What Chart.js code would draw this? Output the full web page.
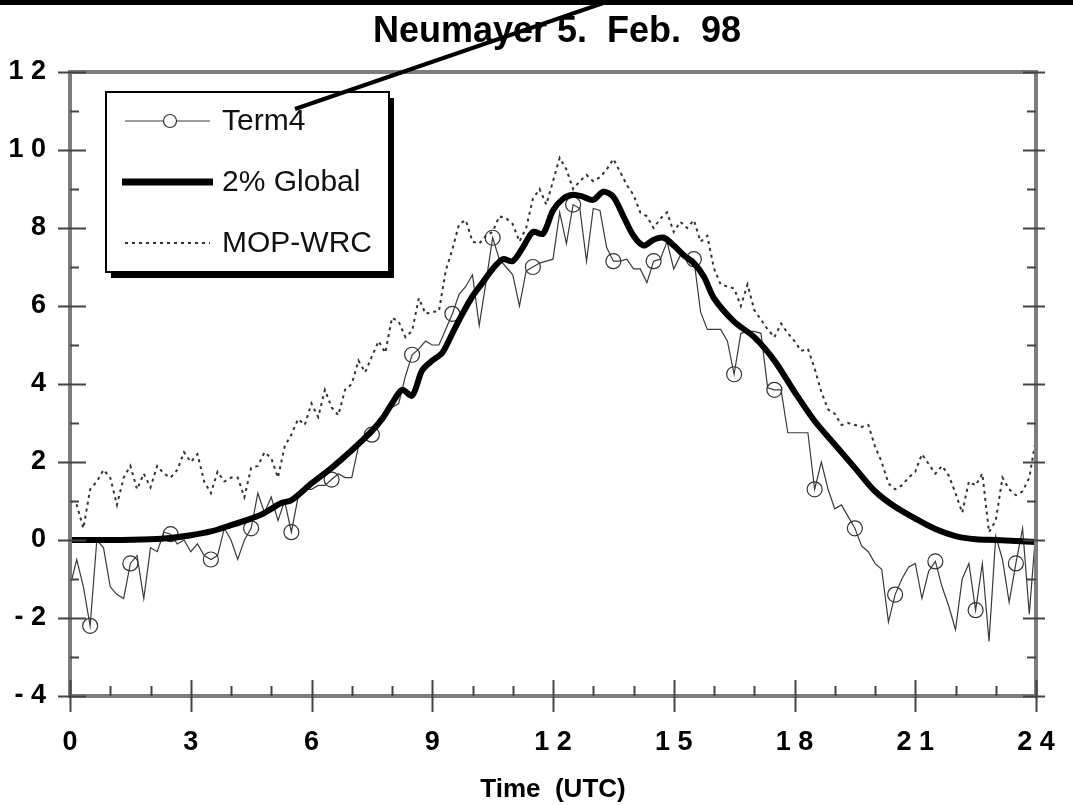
<!DOCTYPE html>
<html>
<head>
<meta charset="utf-8">
<script src="https://cdn.jsdelivr.net/npm/chart.js@4"></script>
<style>
  html, body { margin: 0; padding: 0; background: #fff; }
  #wrap { width: 1073px; height: 805px; position: relative; }
</style>
</head>
<body>
<div id="wrap"><canvas id="chartNeumayer"></canvas></div>
<script>
// 10-minute samples from 0 to 24 UTC
const term4Vals = [
  -1.2, -0.5, -1.2, -2.2, 0.0, -0.2,
  -1.2, -1.4, -1.5, -0.6, -0.4, -1.5,
  -0.2, -0.3, 0.2, 0.15, -0.1, 0.0,
  -0.3, -0.1, -0.4, -0.5, -0.4, 0.3,
  0.0, -0.5, 0.0, 0.3, 1.2, 0.7,
  1.1, 0.5, 1.0, 0.2, 1.1, 1.3,
  1.3, 1.4, 1.4, 1.55, 1.7, 1.6,
  1.6, 2.4, 2.55, 2.7, 2.9, 3.2,
  3.4, 3.5, 4.2, 4.75, 4.9, 5.1,
  5.0, 5.0, 5.4, 5.8, 6.3, 6.5,
  6.8, 5.5, 6.6, 7.75, 7.2, 7.0,
  6.8, 6.0, 6.9, 7.0, 7.1, 7.15,
  7.2, 8.4, 7.6, 8.6, 8.5, 7.15,
  8.5, 8.45, 7.5, 7.15, 7.15, 7.2,
  6.95, 6.95, 6.6, 7.15, 7.2, 7.65,
  6.95, 7.3, 7.25, 7.2, 5.85, 5.4,
  5.4, 5.4, 5.1, 4.25, 5.3, 5.35,
  5.35, 5.3, 3.9, 3.85, 3.85, 2.75,
  2.75, 2.75, 2.75, 1.3, 2.0, 1.3,
  0.8, 0.9, 0.6, 0.3, -0.15, -0.3,
  -0.6, -0.75, -2.1, -1.4, -1.0, -0.7,
  -0.6, -1.5, -0.8, -0.55, -1.2, -1.7,
  -2.3, -1.0, -0.6, -1.8, -0.6, -2.6,
  0.1, -0.5, -1.6, -0.6, 0.3, -1.9,
  0.3
];

const mopVals = [
  1.0, 0.9, 0.3, 1.3, 1.5, 1.8,
  1.6, 0.9, 1.6, 1.9, 1.3, 1.7,
  1.35, 1.9, 1.7, 1.6, 1.8, 2.25,
  2.0, 2.2, 1.5, 1.2, 1.75, 1.5,
  1.6, 1.6, 1.1, 1.85, 1.9, 2.25,
  2.1, 1.6, 2.4, 2.7, 3.1, 2.95,
  3.5, 3.15, 3.85, 3.4, 3.2, 3.85,
  4.0, 4.6, 4.3, 4.7, 5.1, 4.8,
  5.7, 5.6, 5.2, 5.36, 6.2, 5.8,
  5.85, 5.87, 6.9, 7.45, 8.1, 8.2,
  7.65, 7.6, 7.8, 7.9, 8.3, 8.25,
  8.1, 7.65, 8.0, 8.75, 9.0, 8.6,
  9.2, 9.8, 9.5, 9.0, 9.2, 9.36,
  9.2, 9.3, 9.5, 9.77, 9.44, 9.1,
  8.85, 8.4, 8.3, 8.0, 8.24, 8.4,
  7.9, 8.16, 8.0, 8.2, 7.65, 7.8,
  6.96, 6.55, 6.5, 6.45, 6.0, 6.55,
  5.9, 5.65, 5.4, 5.2, 5.55, 5.3,
  5.1, 4.85, 4.9, 4.4, 3.8, 3.35,
  3.24, 2.95, 3.0, 2.95, 2.9, 2.95,
  2.4, 2.0, 1.45, 1.3, 1.4, 1.6,
  1.75, 2.2, 1.95, 1.7, 1.9, 1.65,
  1.2, 0.7, 1.5, 1.4, 1.7, 0.2,
  0.5, 1.6, 1.3, 1.15, 1.25, 1.6,
  2.6
];

const globalTimes = [0, 1, 2, 2.5, 3, 3.5, 4, 4.5, 4.75, 5, 5.25, 5.5, 6, 6.5, 7, 7.5, 7.75, 8, 8.25, 8.5,
  8.75, 9, 9.25, 9.5, 9.75, 10, 10.25, 10.5, 10.75, 11, 11.25, 11.5, 11.75, 12, 12.25, 12.5, 12.75, 13,
  13.25, 13.5, 13.75, 14, 14.25, 14.5, 14.75, 15, 15.25, 15.5, 15.75, 16, 16.5, 17, 17.5, 18, 18.5, 19,
  19.5, 20, 20.5, 21, 21.5, 22, 22.5, 23, 24];
const globalVals = [0, 0, 0.02, 0.05, 0.12, 0.22, 0.38, 0.55, 0.65, 0.8, 0.95, 1.02, 1.45, 1.85, 2.3, 2.8, 3.1, 3.5, 3.85, 3.7,
  4.35, 4.6, 4.8, 5.3, 5.8, 6.25, 6.6, 6.95, 7.2, 7.15, 7.5, 7.9, 7.85, 8.45, 8.75, 8.85, 8.8, 8.72,
  8.93, 8.8, 8.3, 7.8, 7.55, 7.7, 7.75, 7.55, 7.3, 7.1, 6.75, 6.2, 5.6, 5.2, 4.6, 3.8, 3.05, 2.45,
  1.85, 1.25, 0.85, 0.55, 0.28, 0.1, 0.02, 0, -0.05];

const xTickLabels = ["0", "3", "6", "9", "1 2", "1 5", "1 8", "2 1", "2 4"];
const yTickLabels = ["- 4", "- 2", "0", "2", "4", "6", "8", "1 0", "1 2"];
const seriesNames = ["Term4", "2% Global", "MOP-WRC"];

const FONT = '"Liberation Sans", Arial, Helvetica, sans-serif';

const term4Data = term4Vals.map((v, i) => ({ x: i / 6, y: v }));
const mopData = mopVals.map((v, i) => ({ x: i / 6, y: v }));
const globalData = globalVals.map((v, i) => ({ x: globalTimes[i], y: v }));

const decorPlugin = {
  id: "decor",
  afterDraw(chart) {
    const { ctx, chartArea: a, scales: { x, y } } = chart;
    ctx.save();

    // plot frame
    ctx.strokeStyle = "#7d7d7d";
    ctx.lineWidth = 4;
    ctx.strokeRect(a.left, a.top, a.right - a.left, a.bottom - a.top);

    // tick marks
    ctx.strokeStyle = "#444";
    ctx.lineWidth = 2;
    ctx.beginPath();
    for (let v = -4; v <= 12; v++) {
      const py = Math.round(y.getPixelForValue(v)) + 0.5;
      const major = v % 2 === 0;
      ctx.moveTo(a.left - (major ? 12 : 0), py);
      ctx.lineTo(a.left + (major ? 16 : 9), py);
      ctx.moveTo(a.right - (major ? 13 : 9), py);
      ctx.lineTo(a.right + (major ? 9 : 0), py);
    }
    for (let h = 0; h <= 24; h++) {
      const px = Math.round(x.getPixelForValue(h)) + 0.5;
      const major = h % 3 === 0;
      ctx.moveTo(px, a.bottom - (major ? 16 : 10));
      ctx.lineTo(px, a.bottom + (major ? 16 : 0));
    }
    ctx.stroke();

    // legend box with shadow
    const bx = 106, by = 92, bw = 283, bh = 180;
    ctx.fillStyle = "#000";
    ctx.fillRect(bx + 5, by + 6, bw, bh);
    ctx.fillStyle = "#fff";
    ctx.fillRect(bx, by, bw, bh);
    ctx.strokeStyle = "#000";
    ctx.lineWidth = 2;
    ctx.strokeRect(bx, by, bw, bh);

    const rows = [121, 182, 243];
    const ds = chart.data.datasets;
    ctx.font = "30px " + FONT;
    ctx.textBaseline = "middle";
    ctx.textAlign = "left";
    ds.forEach((d, i) => {
      const ry = rows[i];
      ctx.save();
      ctx.strokeStyle = d.borderColor;
      ctx.lineWidth = i === 1 ? 7 : d.borderWidth;
      ctx.setLineDash(d.borderDash || []);
      ctx.beginPath();
      ctx.moveTo(i === 1 ? 122 : 125, ry);
      ctx.lineTo(i === 1 ? 213 : 210, ry);
      ctx.stroke();
      ctx.restore();
      if (i === 0) {
        ctx.fillStyle = "#fff";
        ctx.strokeStyle = "#333";
        ctx.lineWidth = 1.2;
        ctx.beginPath();
        ctx.arc(170, ry, 6.5, 0, Math.PI * 2);
        ctx.fill();
        ctx.stroke();
      }
      ctx.fillStyle = "#111";
      ctx.fillText(d.label, 222, ry + 1);
    });

    // title
    ctx.fillStyle = "#000";
    ctx.font = "bold 36px " + FONT;
    ctx.textAlign = "center";
    ctx.textBaseline = "alphabetic";
    ctx.fillText("Neumayer 5.  Feb.  98", 557, 42);

    // top rule and pointer line
    ctx.fillRect(0, 0, 1073, 5);
    ctx.strokeStyle = "#000";
    ctx.lineWidth = 4;
    ctx.beginPath();
    ctx.moveTo(295, 109);
    ctx.lineTo(612, 0);
    ctx.stroke();

    ctx.restore();
  }
};

document.addEventListener("DOMContentLoaded", () => {
  const ctx = document.getElementById("chartNeumayer");

  new Chart(ctx, {
    type: "line",
    data: {
      datasets: [
        {
          label: seriesNames[0],
          data: term4Data,
          borderColor: "#3a3a3a",
          borderWidth: 1.2,
          tension: 0,
          pointRadius: (c) => (c.dataIndex % 6 === 3 ? 7.5 : 0),
          pointBackgroundColor: "rgba(0,0,0,0)",
          pointBorderColor: "#333",
          pointBorderWidth: 1.2,
          order: 1
        },
        {
          label: seriesNames[1],
          data: globalData,
          borderColor: "#000",
          borderWidth: 6,
          tension: 0.3,
          pointRadius: 0,
          order: 0
        },
        {
          label: seriesNames[2],
          data: mopData,
          borderColor: "#333",
          borderWidth: 2,
          borderDash: [3, 4],
          tension: 0,
          pointRadius: 0,
          order: 2
        }
      ]
    },
    options: {
      responsive: true,
      maintainAspectRatio: false,
      devicePixelRatio: 1,
      animation: false,
      events: [],
      layout: { padding: { top: 72, right: 37, left: 0, bottom: 0 } },
      plugins: {
        legend: { display: false },
        tooltip: { enabled: false },
        title: { display: false }
      },
      scales: {
        x: {
          type: "linear",
          min: 0,
          max: 24,
          afterFit: (s) => {
            s.height = 109;
            s.paddingLeft = 0;
            s.paddingRight = 0;
          },
          grid: { display: false },
          border: { display: false },
          ticks: {
            stepSize: 3,
            autoSkip: false,
            maxRotation: 0,
            padding: 22,
            color: "#000",
            font: { family: FONT, weight: "bold", size: 27 },
            callback: (v) => xTickLabels[v / 3]
          },
          title: {
            display: true,
            text: "Time  (UTC)",
            color: "#000",
            font: { family: FONT, weight: "bold", size: 26 },
            padding: { top: 0, bottom: 0 }
          }
        },
        y: {
          min: -4,
          max: 12,
          afterFit: (s) => {
            s.width = 70;
            s.paddingTop = 0;
            s.paddingBottom = 0;
          },
          grid: { display: false },
          border: { display: false },
          ticks: {
            stepSize: 2,
            padding: 16,
            color: "#000",
            font: { family: FONT, weight: "bold", size: 27 },
            callback: (v) => yTickLabels[(v + 4) / 2]
          }
        }
      }
    },
    plugins: [decorPlugin]
  });
});
</script>
</body>
</html>
